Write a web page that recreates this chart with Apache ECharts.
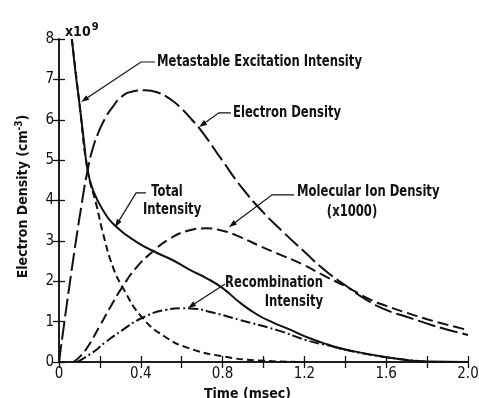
<!DOCTYPE html>
<html><head><meta charset="utf-8">
<script src="https://cdn.jsdelivr.net/npm/echarts@6/dist/echarts.min.js"></script>
<style>html,body{margin:0;padding:0;background:#fff}#c{width:479px;height:398px}</style>
</head><body><div id="c"></div>
<script>
// ---- data (time in msec, values in units of 1e9) ----
const totalX = [0.063,0.08,0.1,0.12,0.14,0.166,0.215,0.28,0.38,0.48,0.557,0.64,0.72,0.8,0.885,0.97,1.05,1.13,1.22,1.31,1.4,1.6,1.8,2.0];
const totalY = [8.0,7.2,6.4,5.55,4.75,4.26,3.76,3.35,2.97,2.7,2.52,2.28,2.08,1.83,1.47,1.17,0.97,0.8,0.6,0.44,0.31,0.12,0.01,0];
const metaX = [0.063,0.1,0.14,0.185,0.215,0.264,0.31,0.405,0.52,0.63,0.8,0.97,1.2];
const metaY = [8.0,6.4,4.75,3.85,3.19,2.35,1.86,1.11,0.62,0.35,0.14,0.04,0];
const elecX = [0,0.064,0.12,0.14,0.16,0.19,0.225,0.26,0.306,0.36,0.42,0.48,0.55,0.6,0.65,0.7,0.8,0.9,1.0,1.1,1.2,1.3,1.4,1.5,1.6,1.7,1.8,1.9,2.0];
const elecY = [0,2.35,4.2,4.75,5.2,5.65,6.03,6.3,6.57,6.7,6.73,6.68,6.49,6.27,6.0,5.7,4.98,4.28,3.7,3.2,2.73,2.27,1.9,1.55,1.29,1.12,0.95,0.8,0.67];
const molX = [0.07,0.1,0.14,0.2,0.25,0.31,0.38,0.455,0.54,0.63,0.72,0.8,0.885,0.97,1.066,1.19,1.31,1.4,1.52,1.6,1.7,1.8,1.9,2.0];
const molY = [0,0.12,0.37,0.9,1.35,1.86,2.35,2.72,3.05,3.25,3.31,3.25,3.1,2.9,2.69,2.42,2.1,1.88,1.55,1.39,1.22,1.06,0.92,0.79];
const recX = [0.09,0.16,0.23,0.31,0.405,0.52,0.6,0.66,0.74,0.885,1.066,1.21,1.325,1.4,1.6,1.8];
const recY = [0,0.22,0.5,0.79,1.09,1.29,1.33,1.32,1.24,1.04,0.79,0.54,0.4,0.3,0.12,0];
const xLabels = ['0','0.4','0.8','1.2','1.6','2.0'];
const yLabels = ['0','1','2','3','4','5','6','7','8'];

const FONT = "'Liberation Sans Narrow','DejaVu Sans Condensed',sans-serif";
const zip = (xs, ys) => xs.map((x, i) => [x, ys[i]]);

const chart = echarts.init(document.getElementById('c'), null, {renderer: 'canvas'});

function lineSeries(name, xs, ys, dash) {
  return {
    name, type: 'line', data: zip(xs, ys), showSymbol: false, symbol: 'none',
    smooth: 0.5, clip: true, silent: true,
    lineStyle: {color: '#111', width: 2, type: dash}
  };
}

const axisCommon = {
  axisLine: {show: true, lineStyle: {color: '#111', width: 1.5}},
  axisTick: {show: true, inside: true, length: 6, lineStyle: {color: '#111', width: 1.3}},
  splitLine: {show: false}
};

chart.setOption({
  animation: false,
  backgroundColor: '#fff',
  grid: {left: 59, right: 11, top: 39, bottom: 36, containLabel: false, outerBoundsMode: 'none'},
  xAxis: [
    Object.assign({type: 'value', min: 0, max: 2, interval: 0.2, position: 'bottom',
      name: 'Time (msec)', nameLocation: 'middle', nameGap: 22,
      nameTextStyle: {fontFamily: FONT, fontSize: 14, color: '#111', fontWeight: 'bold', padding: [0, 32, 0, 0]},
      axisLabel: {fontFamily: FONT, fontSize: 15, color: '#111', margin: 5,
        formatter: v => { const k = Math.round(v * 10); return k % 4 === 0 ? xLabels[k / 4] : ''; }}
    }, axisCommon),
    Object.assign({type: 'value', min: 0, max: 2, interval: 0.2, position: 'top',
      axisLabel: {show: false}}, axisCommon)
  ],
  yAxis: [
    Object.assign({type: 'value', min: 0, max: 8, interval: 1, position: 'left',
      name: '{a|Electron Density (cm}{s|-3}{a|)}', nameLocation: 'middle', nameGap: 27, nameRotate: 90,
      nameTextStyle: {padding: [0, 0, 0, 8], rich: {
        a: {fontFamily: FONT, fontSize: 14, color: '#111', fontWeight: 'bold'},
        s: {fontFamily: FONT, fontSize: 10, color: '#111', fontWeight: 'bold', padding: [0, 0, 8, 0]}
      }},
      axisLabel: {fontFamily: FONT, fontSize: 15, color: '#111', margin: 5,
        formatter: v => yLabels[Math.round(v)]}
    }, axisCommon),
    Object.assign({type: 'value', min: 0, max: 8, interval: 1, position: 'right',
      axisLabel: {show: false}}, axisCommon)
  ],
  series: [
    lineSeries('Metastable Excitation Intensity', metaX, metaY, [7, 4]),
    lineSeries('Total Intensity', totalX, totalY, 'solid'),
    lineSeries('Electron Density', elecX, elecY, [18, 5]),
    lineSeries('Molecular Ion Density (x1000)', molX, molY, [11, 5]),
    lineSeries('Recombination Intensity', recX, recY, [10, 3, 2, 3])
  ]
});

// ---- annotations (in data coordinates) ----
const notes = [
  {texts: [{t: 'Metastable Excitation Intensity', at: [0.479, 7.43], align: 'left'}],
   path: [[0.469, 7.43], [0.401, 7.43], [0.108, 6.44]]},
  {texts: [{t: 'Electron Density', at: [0.851, 6.17], align: 'left'}],
   path: [[0.841, 6.17], [0.782, 6.17], [0.685, 5.82]]},
  {texts: [{t: 'Total', at: [0.528, 4.21], align: 'center'}, {t: 'Intensity', at: [0.553, 3.76], align: 'center'}],
   path: [[0.425, 4.19], [0.377, 4.19], [0.274, 3.34]]},
  {texts: [{t: 'Molecular Ion Density', at: [1.164, 4.21], align: 'left'}, {t: '(x1000)', at: [1.433, 3.72], align: 'center'}],
   path: [[1.149, 4.14], [1.042, 4.14], [0.831, 3.34]]},
  {texts: [{t: 'Recombination', at: [1.291, 1.96], align: 'right'}, {t: 'Intensity', at: [1.291, 1.49], align: 'right'}],
   path: [[0.812, 1.93], [0.631, 1.34]]}
];
const toPx = p => chart.convertToPixel({gridIndex: 0}, p);
const graphics = [];
notes.forEach(n => {
  n.texts.forEach(tx => {
    const p = toPx(tx.at);
    graphics.push({type: 'text', x: p[0], y: p[1], scaleX: 0.86, silent: true,
      style: {text: tx.t, font: 'bold 15px ' + FONT, fill: '#111', align: tx.align, verticalAlign: 'middle'}});
  });
  const pts = n.path.map(toPx);
  const tip = pts[pts.length - 1], prev = pts[pts.length - 2];
  const dx = tip[0] - prev[0], dy = tip[1] - prev[1], L = Math.hypot(dx, dy);
  const ux = dx / L, uy = dy / L, al = 8, aw = 2.8;
  const base = [tip[0] - ux * al, tip[1] - uy * al];
  pts[pts.length - 1] = [tip[0] - ux * 3, tip[1] - uy * 3];
  graphics.push({type: 'polyline', silent: true, shape: {points: pts},
    style: {stroke: '#111', lineWidth: 1.2, fill: null}});
  graphics.push({type: 'polygon', silent: true, shape: {points: [tip,
    [base[0] - uy * aw, base[1] + ux * aw], [base[0] + uy * aw, base[1] - ux * aw]]},
    style: {fill: '#111'}});
});
// multiplier label at top-left
const corner = toPx([0, 8]);
graphics.push({type: 'text', x: corner[0] + 6, y: corner[1] + 3, silent: true,
  style: {text: '{a|x10}{s|9}', verticalAlign: 'bottom', rich: {
    a: {font: 'bold 14px ' + FONT, fill: '#111'},
    s: {font: 'bold 11px ' + FONT, fill: '#111', padding: [0, 0, 9, 1]}
  }}});
chart.setOption({graphic: graphics});
</script></body></html>
